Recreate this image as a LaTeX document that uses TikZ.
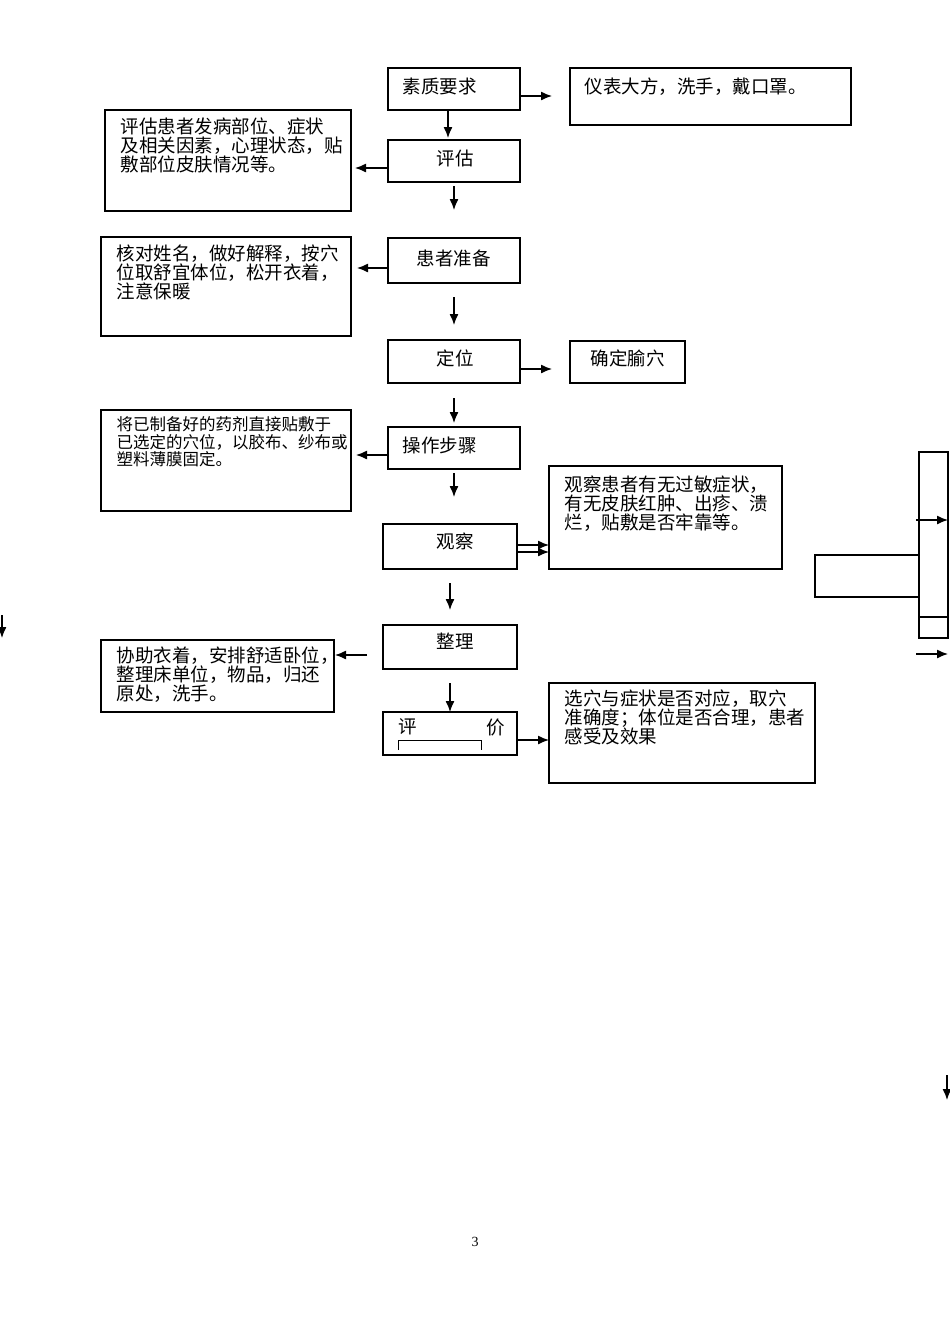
\documentclass[tikz,border=0pt]{standalone}
\usepackage{fontspec}
\usetikzlibrary{arrows.meta}
\setmainfont{Liberation Serif}
\newfontfamily\cjk{Noto Sans CJK SC}
\begin{document}
\begin{tikzpicture}[x=1pt,y=-1pt,line width=1.3pt,
 tx/.style={anchor=north west,inner sep=0pt,font=\cjk\fontsize{18.5}{19}\selectfont,align=left},
 ar/.style={-{Latex[length=11pt,width=9pt]}}]
\useasboundingbox (0,0) rectangle (950,1342);
\draw (388,68) rectangle (520,110); \node[tx] (t1) at (402,77) {素质要求};
\draw (570,68) rectangle (851,125); \node[tx] (t2) at (584,77) {仪表大方，洗手，戴口罩。};
\draw (105,110) rectangle (351,211); \node[tx] (t3) at (120,117) {评估患者发病部位、症状\\及相关因素，心理状态，贴\\敷部位皮肤情况等。};
\draw (388,140) rectangle (520,182); \node[tx] (t4) at (436,149) {评估};
\draw[ar] (520,96) -- (552,96);
\draw[ar] (448,110) -- (448,138);
\draw[ar] (388,168) -- (355,168);
\draw[ar] (454,186) -- (454,210);
\draw (388,238) rectangle (520,283); \node[tx] (t5) at (416,249) {患者准备};
\draw (101,237) rectangle (351,336); \node[tx] (t6) at (116,244) {核对姓名，做好解释，按穴\\位取舒宜体位，松开衣着，\\注意保暖};
\draw[ar] (388,268) -- (357,268);
\draw[ar] (454,297) -- (454,325);
\draw (388,340) rectangle (520,383); \node[tx] (t7) at (436,349) {定位};
\draw (570,341) rectangle (685,383); \node[tx] (t8) at (590,349) {确定腧穴};
\draw[ar] (520,369) -- (552,369);
\draw[ar] (454,398) -- (454,423);
\draw (388,427) rectangle (520,469); \node[tx] (t9) at (402,436) {操作步骤};
\draw (101,410) rectangle (351,511); \node[tx,font=\cjk\fontsize{16.5}{17.5}\selectfont] (t10) at (116,416) {将已制备好的药剂直接贴敷于\\已选定的穴位，以胶布、纱布或\\塑料薄膜固定。};
\draw[ar] (388,455) -- (356,455);
\draw[ar] (454,473) -- (454,497);
\draw (383,524) rectangle (517,569); \node[tx] (t11) at (436,532) {观察};
\draw (549,466) rectangle (782,569); \node[tx] (t12) at (564,475) {观察患者有无过敏症状，\\有无皮肤红肿、出疹、溃\\烂，贴敷是否牢靠等。};
\draw[ar] (517,545) -- (549,545);
\draw[ar] (517,552) -- (549,552);
\draw[ar] (450,583) -- (450,610);
\draw (383,625) rectangle (517,669); \node[tx] (t13) at (436,632) {整理};
\draw (101,640) rectangle (334,712); \node[tx] (t14) at (116,646) {协助衣着，安排舒适卧位，\\整理床单位，物品，归还\\原处，洗手。};
\draw[ar] (367,655) -- (335,655);
\draw[ar] (450,683) -- (450,712);
\draw (383,712) rectangle (517,755);
\node[tx] (t15) at (398,718) {评}; \node[tx] (t16) at (486,718) {价};
\draw[line width=0.8pt] (398,750) -- (398,740) -- (481,740) -- (481,750);
\draw[ar] (517,740) -- (549,740);
\draw (549,683) rectangle (815,783); \node[tx] (t17) at (564,689) {选穴与症状是否对应，取穴\\准确度；体位是否合理，患者\\感受及效果};
\draw (919,452) rectangle (948,638); \draw (919,617) -- (948,617);
\draw (919,555) -- (815,555) -- (815,597) -- (919,597);
\draw[ar] (916,520) -- (948,520);
\draw[ar] (916,654) -- (948,654);
\draw[ar] (2,615) -- (2,638);
\draw[ar] (947,1075) -- (947,1100);
\node[font=\fontsize{14}{16}\selectfont] (pg) at (475,1242) {3};
\end{tikzpicture}
\end{document}
